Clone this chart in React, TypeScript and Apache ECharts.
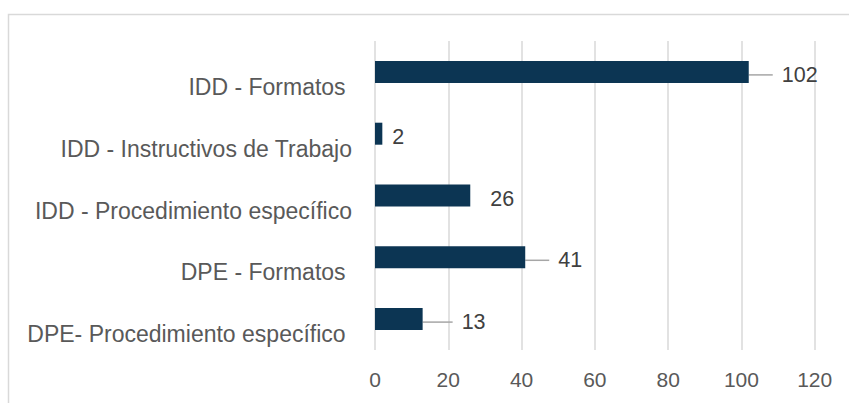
import React, { useEffect, useRef } from "react";
import * as echarts from "echarts";

const categories = [
  "IDD - Formatos ",
  "IDD - Instructivos de Trabajo",
  "IDD - Procedimiento específico",
  "DPE - Formatos ",
  "DPE- Procedimiento específico ",
];
const values = [102, 2, 26, 41, 13];
const labelShift = [28, 5, 15, 28, 34];
const showLeader = [true, false, false, true, true];
const xTicks = [0, 20, 40, 60, 80, 100, 120];

export default function App() {
  const ref = useRef<HTMLDivElement>(null);
  useEffect(() => {
    document.body.style.margin = "0";
    const chart = echarts.init(ref.current!, null, { renderer: "svg" });
    const font = "Liberation Sans";
    const gap = 9;
    chart.setOption({
      animation: false,
      backgroundColor: "#ffffff",
      graphic: [
        {
          type: "rect",
          left: 6,
          top: 12,
          shape: { x: 0, y: 0, width: 900, height: 500 },
          style: { fill: "none", stroke: "#d9d9d9", lineWidth: 1.5 },
          silent: true,
        },
      ],
      grid: { left: 375, right: 34.3, top: 41, bottom: 53, containLabel: false },
      xAxis: {
        type: "value",
        min: xTicks[0],
        max: xTicks[xTicks.length - 1],
        interval: 20,
        axisLine: { show: false },
        axisTick: { show: false },
        splitLine: { show: true, lineStyle: { color: "#d9d9d9", width: 1.5 } },
        axisLabel: {
          color: "#595959",
          fontFamily: font,
          fontSize: 21,
          margin: 19,
        },
      },
      yAxis: {
        type: "category",
        data: categories,
        inverse: true,
        axisLine: { show: false },
        axisTick: { show: false },
        splitLine: { show: false },
        axisLabel: {
          color: "#595959",
          fontFamily: font,
          fontSize: 23,
          margin: 23,
          verticalAlign: "top",
          lineHeight: 30,
        },
      },
      series: [
        {
          type: "bar",
          barWidth: 22,
          data: values.map((v, i) => ({
            value: v,
            labelLine: { show: showLeader[i] },
          })),
          itemStyle: { color: "#0c3553" },
          label: {
            show: true,
            position: "right",
            distance: 5,
            formatter: "{s| }{v|{c}}",
            rich: {
              s: { width: gap, fontSize: 21.5, fontFamily: font },
              v: { color: "#404040", fontFamily: font, fontSize: 21.5 },
            },
          },
          labelLayout: (p: any) => ({ dx: labelShift[p.dataIndex] - gap, dy: 3 }),
          labelLine: {
            show: true,
            lineStyle: { color: "#a6a6a6", width: 1.5 },
          },
        },
      ],
    });
    return () => chart.dispose();
  }, []);
  return <div ref={ref} style={{ width: 849, height: 403 }} />;
}
